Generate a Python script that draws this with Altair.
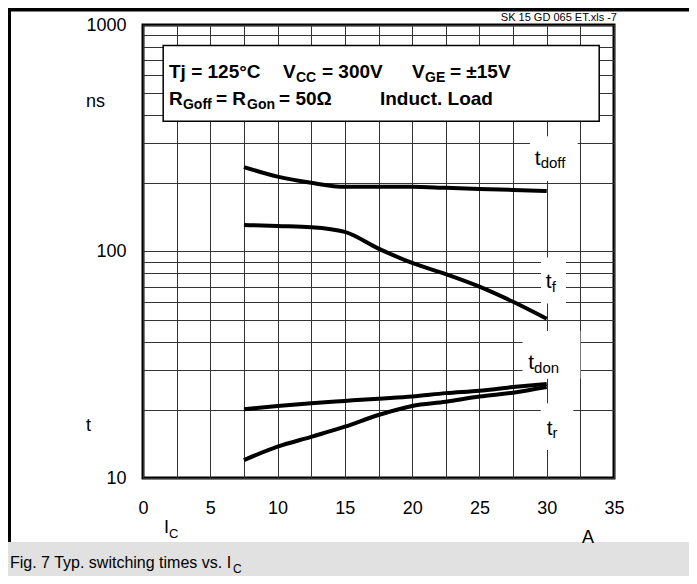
import altair as alt
import pandas as pd

# ---- data ----
ic = [7.5, 10, 12.5, 15, 17.5, 20, 22.5, 25, 27.5, 30]
t_doff = [236, 214, 201, 193, 193, 193, 191, 189, 187, 185]
t_f = [131, 129.5, 128, 122, 103, 89, 79.5, 70, 60, 50.5]
t_don = [20.1, 20.8, 21.4, 21.9, 22.4, 22.9, 23.7, 24.3, 25.2, 26.0]
t_r = [12.0, 13.75, 15.2, 16.85, 18.97, 20.8, 21.7, 22.9, 23.8, 25.2]

x_ticks = [0, 2.5, 5, 7.5, 10, 12.5, 15, 17.5, 20, 22.5, 25, 27.5, 30, 32.5, 35]
y_ticks = [10, 20, 30, 40, 50, 60, 70, 80, 90, 100, 200, 300, 400, 500, 600, 700, 800, 900, 1000]

# curve labels (main "t" + subscript)
lab_sub = ["doff", "f", "don", "r"]
lab_x = [29.12, 29.92, 28.63, 30.0]
lab_y = [241, 68.8, 30.2, 15.5]
lab_sub_x = [29.55, 30.38, 29.06, 30.43]
lab_sub_y = [233.7, 66.45, 29.0, 14.97]

# white backgrounds behind curve labels
lb_x = [28.75, 29.58, 28.2, 29.55]
lb_x2 = [32.3, 31.43, 32.5, 31.98]
lb_y = [205, 59, 27.4, 13.3]
lb_y2 = [323, 94, 44.6, 21.4]

# condition box
box_x, box_x2, box_y, box_y2 = [1.5], [33.9], [376], [812]
box_txt = ["Tj = 125°C", "V", "= 300V", "V", "= ±15V", "R", "= R", "= 50Ω", "Induct. Load"]
box_txt_x = [1.93, 10.40, 13.30, 19.99, 22.81, 1.93, 5.42, 10.11, 17.61]
box_txt_y = [583, 583, 583, 583, 583, 443.5, 443.5, 443.5, 443.5]
box_sub = ["CC", "GE", "Goff", "Gon"]
box_sub_x = [11.37, 20.96, 2.97, 7.73]
box_sub_y = [560, 560, 425.7, 425.7]

FONT = "Liberation Sans"

curves = pd.DataFrame({
    "x": ic * 4,
    "y": t_doff + t_f + t_don + t_r,
    "series": ["t_doff"] * len(ic) + ["t_f"] * len(ic) + ["t_don"] * len(ic) + ["t_r"] * len(ic),
})

x_axis = alt.Axis(values=x_ticks, labelExpr="datum.value % 5 == 0 ? format(datum.value, 'd') : ''",
                  grid=True, gridColor="#333333", gridWidth=1, ticks=False, domain=False,
                  labelFontSize=18, labelColor="black", labelPadding=21, labelFlush=False,
                  labelOverlap=False, labelFont=FONT, title=None)
y_axis = alt.Axis(values=y_ticks,
                  labelExpr="(datum.value == 10 || datum.value == 100 || datum.value == 1000) ? format(datum.value, 'd') : ''",
                  grid=True, gridColor="#333333", gridWidth=1, ticks=False, domain=False,
                  labelFontSize=18, labelColor="black", labelPadding=17, labelFlush=False,
                  labelOverlap=False, labelFont=FONT, title=None)

XS = alt.Scale(domain=[0, 35], nice=False, zero=False)
YS = alt.Scale(type="log", domain=[10, 1000], nice=False)


def X(f="x"):
    return alt.X(f"{f}:Q", scale=XS, axis=x_axis, title=None)


def Y(f="y"):
    return alt.Y(f"{f}:Q", scale=YS, axis=y_axis, title=None)


lab_bg = alt.Chart(pd.DataFrame({"x": lb_x, "x2": lb_x2, "y": lb_y, "y2": lb_y2})).mark_rect(
    color="white").encode(x=X(), x2="x2:Q", y=Y(), y2="y2:Q")

box = alt.Chart(pd.DataFrame({"x": box_x, "x2": box_x2, "y": box_y, "y2": box_y2})).mark_rect(
    fill="white", stroke="black", strokeWidth=1.5).encode(x=X(), x2="x2:Q", y=Y(), y2="y2:Q")

lines = alt.Chart(curves).mark_line(interpolate="monotone", strokeWidth=4, color="black").encode(
    x=X(), y=Y(), detail="series:N")

lab_main = alt.Chart(pd.DataFrame({"x": lab_x, "y": lab_y, "t": ["t"] * 4})).mark_text(
    align="left", baseline="alphabetic", fontSize=21, font=FONT, color="black").encode(
    x=X(), y=Y(), text="t:N")
lab_subs = alt.Chart(pd.DataFrame({"x": lab_sub_x, "y": lab_sub_y, "t": lab_sub})).mark_text(
    align="left", baseline="alphabetic", fontSize=15, font=FONT, color="black").encode(
    x=X(), y=Y(), text="t:N")

box_main = alt.Chart(pd.DataFrame({"x": box_txt_x, "y": box_txt_y, "t": box_txt})).mark_text(
    align="left", baseline="alphabetic", fontSize=19, fontWeight="bold", font=FONT, color="black").encode(
    x=X(), y=Y(), text="t:N")
box_subs = alt.Chart(pd.DataFrame({"x": box_sub_x, "y": box_sub_y, "t": box_sub})).mark_text(
    align="left", baseline="alphabetic", fontSize=14, fontWeight="bold", font=FONT, color="black").encode(
    x=X(), y=Y(), text="t:N")

one = pd.DataFrame({"a": [0]})

gray = alt.Chart(one).mark_rect(color="#e1e1e1").encode(
    x=alt.value(-135), x2=alt.value(546), y=alt.value(517), y2=alt.value(551))
frame_top = alt.Chart(one).mark_rule(color="black", strokeWidth=3.5).encode(
    x=alt.value(-135), x2=alt.value(546), y=alt.value(-15.3))
frame_left = alt.Chart(one).mark_rule(color="black", strokeWidth=3).encode(
    x=alt.value(-133.5), y=alt.value(-17), y2=alt.value(517))


def txt(s, x, y, size, align="left", weight="normal"):
    return alt.Chart(one).mark_text(text=s, align=align, baseline="alphabetic", fontSize=size,
                                    fontWeight=weight, font=FONT, color="black").encode(
        x=alt.value(x), y=alt.value(y))


decor = [
    gray, frame_top, frame_left,
    txt("SK 15 GD 065 ET.xls  -7", 474, -4.5, 11, align="right"),
    txt("ns", -57, 82, 18),
    txt("t", -57, 406, 18),
    txt("I", 21, 508, 18),
    txt("C", 26, 513, 13),
    txt("A", 445, 518, 18, align="center"),
    txt("Fig. 7 Typ. switching times vs. I", -133, 543, 16),
    txt("C", 90, 548, 12),
]

chart = alt.layer(lab_bg, box, lines, lab_main, lab_subs, box_main, box_subs, *decor).properties(
    width=471, height=453,
    autosize=alt.AutoSizeParams(type="none"),
    padding={"left": 135, "top": 17, "right": 75, "bottom": 98},
    background="white",
).configure_view(stroke="black", strokeWidth=3)

chart.save("out.html", embed_options={"renderer": "svg", "actions": False})
